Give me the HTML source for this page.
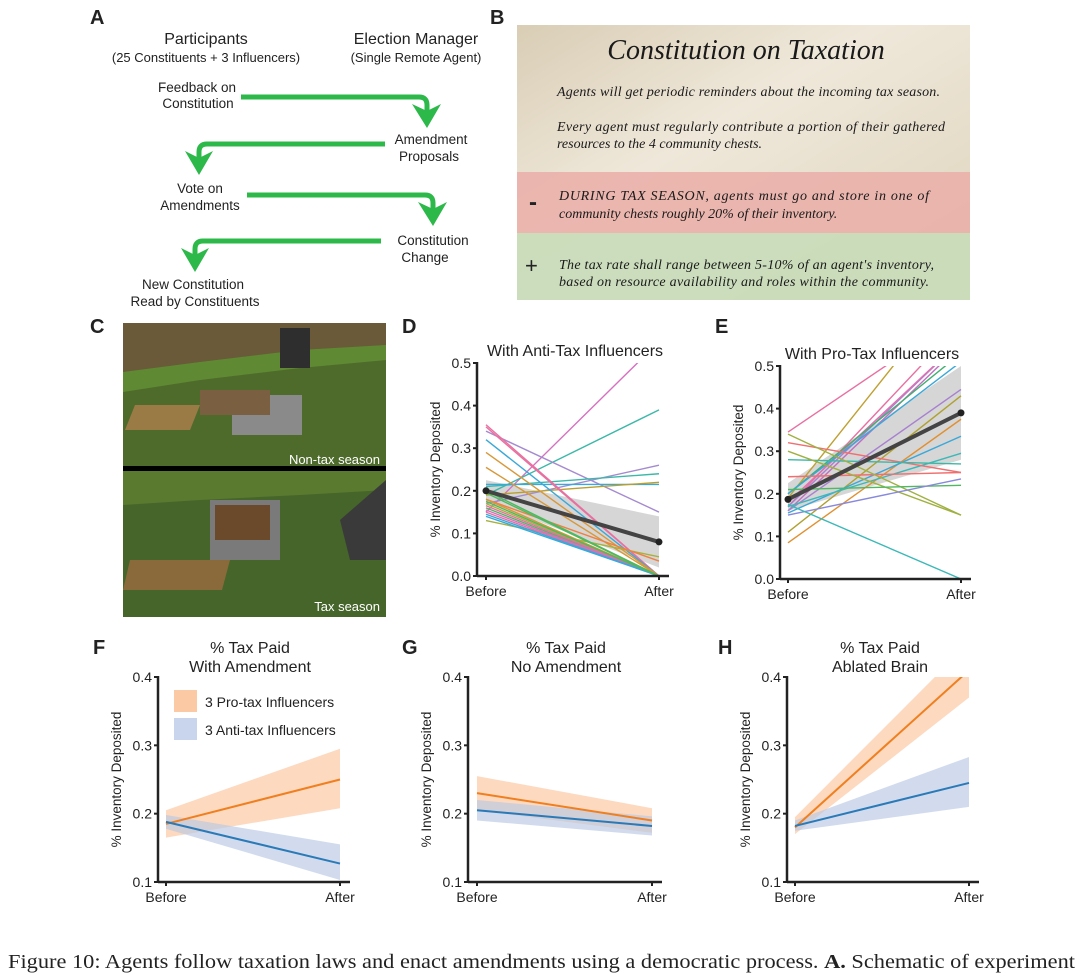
<!DOCTYPE html>
<html><head><meta charset="utf-8"><style>
body{margin:0;background:#fff;width:1080px;height:975px;overflow:hidden}
svg{display:block}
text{font-family:"Liberation Sans",Arial,sans-serif;fill:#222}
.ser{font-family:"Liberation Serif",serif;font-style:italic;fill:#1a1a1a}
</style></head><body>
<svg id="fig" width="1080" height="975" viewBox="0 0 1080 975">
<defs>
<linearGradient id="parch" x1="0" y1="0" x2="1" y2="1">
<stop offset="0" stop-color="#d9cdb5"/><stop offset="0.4" stop-color="#efe8da"/><stop offset="1" stop-color="#ddd2bb"/></linearGradient>
</defs>
<!-- Panel A -->
<g>
<text x="90" y="24" font-size="20" font-weight="bold" fill="#000">A</text>
<text x="206" y="44" font-size="16" text-anchor="middle">Participants</text>
<text x="206" y="62" font-size="13" text-anchor="middle">(25 Constituents + 3 Influencers)</text>
<text x="416" y="44" font-size="16" text-anchor="middle">Election Manager</text>
<text x="416" y="62" font-size="13" text-anchor="middle">(Single Remote Agent)</text>
<g font-size="13.5" text-anchor="middle">
<text x="197" y="92">Feedback on</text><text x="198" y="108">Constitution</text>
<text x="431" y="144">Amendment</text><text x="429" y="161">Proposals</text>
<text x="200" y="193">Vote on</text><text x="200" y="210">Amendments</text>
<text x="433" y="245">Constitution</text><text x="425" y="262">Change</text>
<text x="193" y="289">New Constitution</text><text x="195" y="306">Read by Constituents</text>
</g>
<g fill="none" stroke="#2db84a" stroke-width="5" stroke-linejoin="round">
<path d="M241,97 H419 Q427,97 427,105 V112"/>
<path d="M385,144 H207 Q199,144 199,152 V158"/>
<path d="M247,195 H425 Q433,195 433,203 V210"/>
<path d="M381,241 H203 Q195,241 195,249 V256"/>
</g>
<g fill="#2db84a">
<path d="M412,104 L427,111 L441,104 L427,128Z"/>
<path d="M185,151 L199,158 L213,151 L199,175Z"/>
<path d="M418,202 L433,209 L447,202 L433,226Z"/>
<path d="M181,248 L195,255 L209,248 L195,272Z"/>
</g>
</g>
<!-- Panel B -->
<g>
<text x="490" y="24" font-size="20" font-weight="bold" fill="#000">B</text>
<rect x="517" y="25" width="453" height="275" fill="url(#parch)"/>
<rect x="517" y="172" width="453" height="61" fill="#eab0aa" opacity="0.9"/>
<rect x="517" y="233" width="453" height="67" fill="#c9dcbb" opacity="0.95"/>
<text class="ser" x="746" y="59" font-size="28" text-anchor="middle">Constitution on Taxation</text>
<text class="ser" x="557" y="96" font-size="14" textLength="383">Agents will get periodic reminders about the incoming tax season.</text>
<text class="ser" x="557" y="131" font-size="14" textLength="388">Every agent must regularly contribute a portion of their gathered</text>
<text class="ser" x="557" y="148" font-size="14">resources to the 4 community chests.</text>
<text x="529" y="210" font-size="24" font-weight="bold" fill="#111">-</text>
<text class="ser" x="559" y="200" font-size="14" textLength="370">DURING TAX SEASON, agents must go and store in one of</text>
<text class="ser" x="559" y="218" font-size="14">community chests roughly 20% of their inventory.</text>
<text x="525" y="273" font-size="22" fill="#111">+</text>
<text class="ser" x="559" y="269" font-size="14" textLength="375">The tax rate shall range between 5-10% of an agent's inventory,</text>
<text class="ser" x="559" y="286" font-size="14" textLength="370">based on resource availability and roles within the community.</text>
</g>
<!-- Panel C -->
<g>
<text x="90" y="333" font-size="20" font-weight="bold" fill="#000">C</text>
<rect x="123" y="323" width="263" height="145" fill="#4e6b2c"/>
<path d="M123,323 H386 V345 L300,350 L200,362 L123,372Z" fill="#6a5a3a"/>
<path d="M123,372 L200,362 L300,350 L386,345 V360 L300,368 L200,380 L123,392Z" fill="#5f8a33"/>
<rect x="280" y="328" width="30" height="40" fill="#2e2e2e"/>
<polygon points="135,405 200,405 190,430 125,430" fill="#9a7a45"/>
<rect x="232" y="395" width="70" height="40" fill="#8a8a8a"/>
<rect x="200" y="390" width="70" height="25" fill="#7a6040"/>
<text x="380" y="464" font-size="13" text-anchor="end" style="fill:#fff">Non-tax season</text>
<rect x="123" y="466" width="263" height="5" fill="#000"/>
<rect x="123" y="471" width="263" height="146" fill="#46652a"/>
<path d="M123,471 H386 V490 L300,495 L200,500 L123,505Z" fill="#5a7a30"/>
<rect x="210" y="500" width="70" height="60" fill="#7a7a7a"/>
<rect x="215" y="505" width="55" height="35" fill="#6a4a2a"/>
<path d="M340,520 L386,480 V560 L350,560Z" fill="#3a3a3a"/>
<polygon points="130,560 230,560 222,590 123,590" fill="#8a6a3a"/>
<text x="380" y="611" font-size="13" text-anchor="end" style="fill:#fff">Tax season</text>
</g>
<text x="402" y="333" font-size="20" font-weight="bold" fill="#000">D</text>
<text x="715" y="333" font-size="20" font-weight="bold" fill="#000">E</text>
<text x="93" y="654" font-size="20" font-weight="bold" fill="#000">F</text>
<text x="402" y="654" font-size="20" font-weight="bold" fill="#000">G</text>
<text x="718" y="654" font-size="20" font-weight="bold" fill="#000">H</text>
<g id="charts"></g>
<text x="8" y="968" font-size="20" textLength="1067" lengthAdjust="spacingAndGlyphs" style="font-family:'Liberation Serif',serif" fill="#000">Figure 10: Agents follow taxation laws and enact amendments using a democratic process. <tspan font-weight="bold">A.</tspan> Schematic of experiment</text>
</svg>
<script>
// Panel D data (before, after) per agent
const dBefore=[0.15,0.19,0.34,0.17,0.21,0.215,0.19,0.35,0.355,0.32,0.29,0.255,0.13,0.18,0.14,0.15,0.16,0.17,0.18,0.2,0.195,0.165,0.155,0.145,0.175];
const dAfter=[0.55,0.39,0.15,0.26,0.24,0.215,0.22,0.0,0.0,0.0,0.0,0.0,0.045,0.035,0.0,0.0,0.0,0.0,0.0,0.0,0.0,0.0,0.0,0.0,0.0];
const dColors=["#d670c0","#3cb8a8","#a48ad0","#a48ad0","#3cb8a8","#3aa8d8","#b8a030","#e870a0","#e870a0","#3aa8d8","#d89838","#d89838","#a8b040","#f08040","#3aa8d8","#e870a0","#50b860","#a8b040","#d89838","#50b860","#50b860","#e870a0","#d670c0","#3aa8d8","#50b860"];
const dMean=[0.20,0.08], dLo=[0.175,0.02], dHi=[0.225,0.14];
// Panel E data
const eBefore=[0.345,0.19,0.17,0.16,0.17,0.18,0.2,0.2,0.16,0.11,0.085,0.155,0.17,0.32,0.28,0.24,0.34,0.30,0.21,0.15,0.175];
const eAfter=[0.62,0.7,0.6,0.55,0.56,0.56,0.53,0.51,0.445,0.43,0.375,0.335,0.295,0.25,0.27,0.25,0.15,0.15,0.22,0.235,0.0];
const eColors=["#e870a0","#c0a030","#e870a0","#c070c0","#a880d0","#e070b0","#40b070","#3aa8d8","#a880d0","#b0a030","#e09030","#3aa8d8","#3cb8b8","#f07070","#3cb8a8","#f07070","#a0b040","#a0b040","#50b860","#8888dd","#3cb8b8"];
const eMean=[0.187,0.39], eLo=[0.16,0.28], eHi=[0.225,0.5];
// Panels F,G,H: [before, after]
const fPro=[0.185,0.25], fProLo=[0.165,0.208], fProHi=[0.205,0.295];
const fAnti=[0.188,0.127], fAntiLo=[0.178,0.103], fAntiHi=[0.198,0.155];
const gPro=[0.23,0.19], gProLo=[0.205,0.172], gProHi=[0.255,0.208];
const gAnti=[0.205,0.182], gAntiLo=[0.19,0.168], gAntiHi=[0.22,0.196];
const hPro=[0.18,0.41], hProLo=[0.17,0.37], hProHi=[0.195,0.45];
const hAnti=[0.182,0.245], hAntiLo=[0.175,0.21], hAntiHi=[0.19,0.283];
const xLabels=["Before","After"];
const ticksDE=[0,0.1,0.2,0.3,0.4,0.5];
const ticksFGH=[0.1,0.2,0.3,0.4];

const NS="http://www.w3.org/2000/svg";
const root=document.getElementById('charts');
function mk(tag,attrs,parent){const e=document.createElementNS(NS,tag);for(const k in attrs)e.setAttribute(k,attrs[k]);(parent||root).appendChild(e);return e;}
let clipN=0;
function axes(cfg){
  const g=mk('g',{});
  
  
  const y=v=>cfg.y0+(v-cfg.min)/(cfg.max-cfg.min)*(cfg.y1-cfg.y0);
  const x=i=>cfg.xb+i*(cfg.xa-cfg.xb);
  const id='clip'+(clipN++);
  const cp=mk('clipPath',{id:id},g);mk('rect',{x:cfg.ax,y:cfg.y1,width:cfg.xa-cfg.ax+12,height:cfg.y0-cfg.y1},cp);
  const plot=mk('g',{'clip-path':'url(#'+id+')'},g);
  const yl=mk('line',{x1:cfg.ax,x2:cfg.ax,y1:cfg.y1-1,y2:cfg.y0+1,stroke:'#222','stroke-width':2.5},g);
  
  
  const xl=mk('line',{x1:cfg.ax,x2:cfg.xa+10,y1:cfg.y0,y2:cfg.y0,stroke:'#222','stroke-width':2.5},g);
  
  
  cfg.ticks.forEach(t=>{
    mk('line',{x1:cfg.ax-4,x2:cfg.ax,y1:y(t),y2:y(t),stroke:'#222','stroke-width':2},g);
    const tx=mk('text',{x:cfg.ax-6,y:y(t)+5,'font-size':14,'text-anchor':'end'},g);tx.textContent=t.toFixed(1);
    
    
  });
  xLabels.forEach((l,i)=>{
    mk('line',{x1:x(i),x2:x(i),y1:cfg.y0,y2:cfg.y0+4,stroke:'#222','stroke-width':2},g);
    const tx=mk('text',{x:x(i),y:cfg.y0+20,'font-size':14,'text-anchor':'middle'},g);tx.textContent=l;
    
    
  });
  const yt=mk('text',{x:0,y:0,'font-size':13.5,'text-anchor':'middle',transform:`translate(${cfg.ax-37},${(cfg.y0+cfg.y1)/2}) rotate(-90)`},g);
  yt.textContent='% Inventory Deposited';
  
  
  cfg.title.forEach((t,i)=>{const tt=mk('text',{x:cfg.tx,y:cfg.ty+i*19,'font-size':16,'text-anchor':'middle'},g);tt.textContent=t;
    
    });
  return {g,plot,x,y};
}
function band(c,lo,hi,fill,op,name){
  const p=mk('path',{d:`M${c.x(0)},${c.y(lo[0])} L${c.x(1)},${c.y(lo[1])} L${c.x(1)},${c.y(hi[1])} L${c.x(0)},${c.y(hi[0])}Z`,fill:fill,opacity:op},c.plot);
  
  
}
function line(c,v,col,w,name){
  const l=mk('line',{x1:c.x(0),y1:c.y(v[0]),x2:c.x(1),y2:c.y(v[1]),stroke:col,'stroke-width':w},c.plot);
  
  
}
function pair(c,b,a,colors){
  b.forEach((v,i)=>{line(c,[v,a[i]],colors[i],1.4,'agent-line');});
}
const D=axes({name:'panel-d-anti-tax',ax:477,xb:486,xa:659,y0:576,y1:363,min:0,max:0.5,ticks:ticksDE,title:['With Anti-Tax Influencers'],tx:575,ty:356});
band(D,dLo,dHi,'#bbb',0.6,'mean-ci-band');
pair(D,dBefore,dAfter,dColors);
line(D,dMean,'#444',4,'mean-line');
dMean.forEach((v,i)=>{const c=mk('circle',{cx:D.x(i),cy:D.y(v),r:3.5,fill:'#222'},D.plot);});
const E=axes({name:'panel-e-pro-tax',ax:780,xb:788,xa:961,y0:579,y1:366,min:0,max:0.5,ticks:ticksDE,title:['With Pro-Tax Influencers'],tx:872,ty:359});
band(E,eLo,eHi,'#bbb',0.6,'mean-ci-band');
pair(E,eBefore,eAfter,eColors);
line(E,eMean,'#444',4,'mean-line');
eMean.forEach((v,i)=>{const c=mk('circle',{cx:E.x(i),cy:E.y(v),r:3.5,fill:'#222'},E.plot);});
function tax(cfg,pro,proLo,proHi,anti,antiLo,antiHi){
  const c=axes(Object.assign({y0:882,y1:677,min:0.1,max:0.4,ticks:ticksFGH,ty:653},cfg));
  band(c,proLo,proHi,'#fbc9a4',0.7,'pro-tax-ci-band');
  band(c,antiLo,antiHi,'#b9c8e4',0.65,'anti-tax-ci-band');
  line(c,pro,'#f07f1f',2,'pro-tax-line');
  line(c,anti,'#2a7ab8',2,'anti-tax-line');
  return c;
}
tax({name:'panel-f-with-amendment',ax:158,xb:166,xa:340,title:['% Tax Paid','With Amendment'],tx:250},fPro,fProLo,fProHi,fAnti,fAntiLo,fAntiHi);
tax({name:'panel-g-no-amendment',ax:468,xb:477,xa:652,title:['% Tax Paid','No Amendment'],tx:566},gPro,gProLo,gProHi,gAnti,gAntiLo,gAntiHi);
tax({name:'panel-h-ablated-brain',ax:787,xb:795,xa:969,title:['% Tax Paid','Ablated Brain'],tx:880},hPro,hProLo,hProHi,hAnti,hAntiLo,hAntiHi);
const lg=mk('g',{});


mk('rect',{x:174,y:690,width:23,height:22,fill:'#fbc9a4'},lg);
mk('rect',{x:174,y:718,width:23,height:22,fill:'#c9d5ec'},lg);
const l1=mk('text',{x:205,y:707,'font-size':14},lg);l1.textContent='3 Pro-tax Influencers';


const l2=mk('text',{x:205,y:735,'font-size':14},lg);l2.textContent='3 Anti-tax Influencers';


</script>
</body></html>
